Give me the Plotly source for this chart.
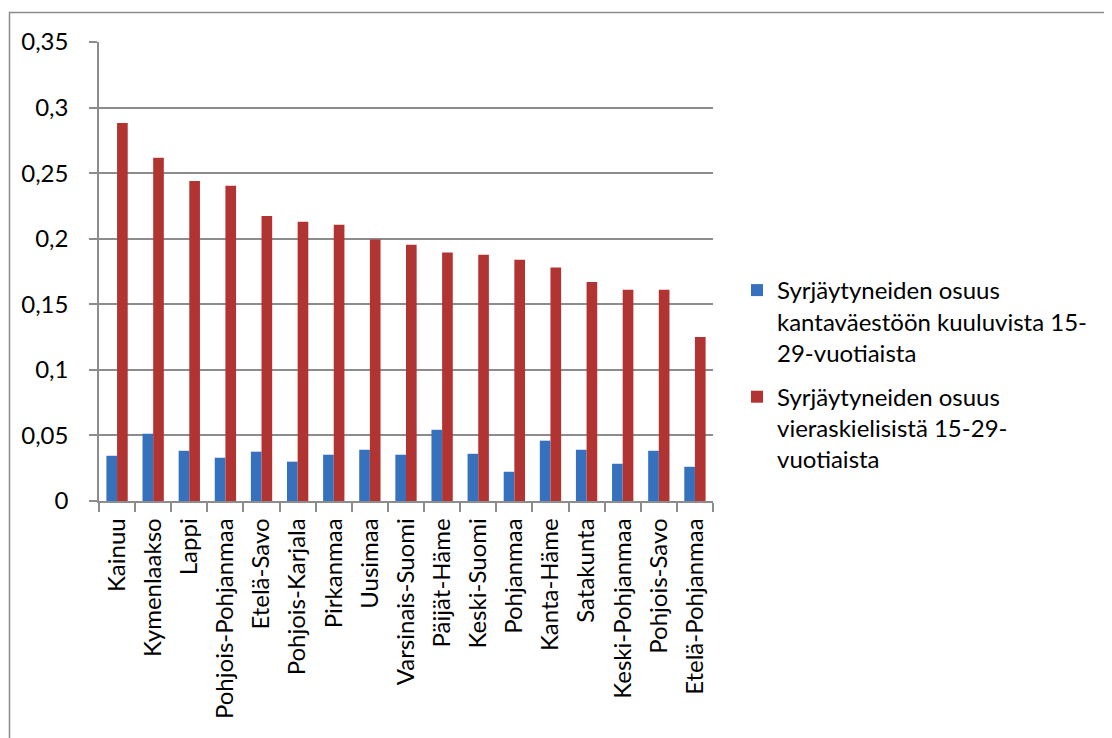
import plotly.graph_objects as go

regions = ["Kainuu", "Kymenlaakso", "Lappi", "Pohjois-Pohjanmaa", "Etelä-Savo",
           "Pohjois-Karjala", "Pirkanmaa", "Uusimaa", "Varsinais-Suomi", "Päijät-Häme",
           "Keski-Suomi", "Pohjanmaa", "Kanta-Häme", "Satakunta", "Keski-Pohjanmaa",
           "Pohjois-Savo", "Etelä-Pohjanmaa"]
native_share = [0.0345, 0.0513, 0.0383, 0.0330, 0.0376, 0.0300, 0.0353, 0.0391, 0.0353,
                0.0543, 0.0360, 0.0223, 0.0460, 0.0391, 0.0284, 0.0383, 0.0261]
foreign_share = [0.2883, 0.2617, 0.2441, 0.2403, 0.2174, 0.2129, 0.2106, 0.1994, 0.1954,
                 0.1894, 0.1878, 0.1840, 0.1780, 0.1670, 0.1610, 0.1610, 0.1250]
series_names = ["Syrjäytyneiden osuus<br>kantaväestöön kuuluvista 15-<br>29-vuotiaista",
                "Syrjäytyneiden osuus<br>vieraskielisistä 15-29-<br>vuotiaista"]
y_ticks = [0, 0.05, 0.1, 0.15, 0.2, 0.25, 0.3, 0.35]

FONT = "Lato"
FS = 24

fig = go.Figure()
fig.add_trace(go.Bar(x=regions, y=native_share, name=series_names[0], legendgroup="a",
                     marker=dict(color="#3671BD", line=dict(width=0))))
fig.add_trace(go.Bar(x=regions, y=foreign_share, name=series_names[1], legendgroup="b",
                     marker=dict(color="#B23432", line=dict(width=0))))

# page is rendered with an 8px body margin
OFF = 8
W, H = 1112 - OFF, 738 - OFF
px_l, px_r, px_t, px_b = 99, 713, 42, 501   # plot area in page pixels
L, T = px_l - OFF, px_t - OFF
R = W - (px_r - OFF)
B = H - (px_b - OFF)
pw, ph = px_r - px_l, px_b - px_t

def xp(px):
    return (px - px_l) / pw

def yp(py):
    return (px_b - py) / ph

fig.update_layout(
    width=W, height=H,
    margin=dict(l=L, r=R, t=T, b=B, autoexpand=False),
    paper_bgcolor="white", plot_bgcolor="white",
    separators=", ",
    barmode="group", bargap=0.41, bargroupgap=0,
    font=dict(family=FONT, size=FS, color="black"),
    showlegend=True,
    legend=dict(x=xp(737), y=yp(268), xanchor="left", yanchor="top",
                valign="top", font=dict(family=FONT, size=FS, color="black"),
                tracegroupgap=10, itemwidth=30, bgcolor="rgba(0,0,0,0)"),
    xaxis=dict(tickangle=-90, ticks="outside", tickson="boundaries", ticklen=9,
               tickcolor="#8c8c8c", tickwidth=1.5, showline=True, linecolor="#8c8c8c",
               linewidth=1.5, showgrid=False, ticklabelstandoff=6,
               tickfont=dict(family=FONT, size=FS, color="black")),
    yaxis=dict(range=[0, 0.35], tickvals=y_ticks, ticks="outside", ticklen=8,
               tickcolor="#8c8c8c", tickwidth=1.5, showline=True, linecolor="#8c8c8c",
               linewidth=1.5, showgrid=True, gridcolor="#8c8c8c", gridwidth=1.5,
               zeroline=False, ticklabelstandoff=16,
               tickfont=dict(family=FONT, size=FS, color="black")),
    shapes=[dict(type="rect", xref="paper", yref="paper",
                 x0=xp(9.5), x1=xp(1111.5),
                 y0=yp(760), y1=yp(12.5),
                 line=dict(color="#8c8c8c", width=1.5), layer="below")],
)

fig.write_html("out.html")
